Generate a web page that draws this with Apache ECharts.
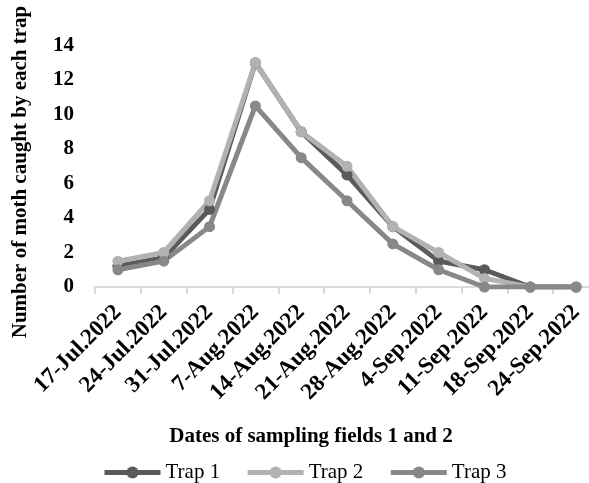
<!DOCTYPE html>
<html><head><meta charset="utf-8">
<script src="https://cdn.jsdelivr.net/npm/echarts@6/dist/echarts.min.js"></script>
<style>html,body{margin:0;padding:0;background:#fff}#c{width:589px;height:483px}</style>
</head><body><div id="c"></div>
<script>
var categories = ['17-Jul.2022','24-Jul.2022','31-Jul.2022','7-Aug.2022','14-Aug.2022','21-Aug.2022','28-Aug.2022','4-Sep.2022','11-Sep.2022','18-Sep.2022','24-Sep.2022'];
var trap1 = [1.2, 1.7, 4.5, 13, 9, 6.5, 3.5, 1.5, 1, 0, 0];
var trap2 = [1.5, 2, 5, 13, 9, 7, 3.5, 2, 0.5, 0, 0];
var trap3 = [1, 1.5, 3.5, 10.5, 7.5, 5, 2.5, 1, 0, 0, 0];
var yTicks = [0, 2, 4, 6, 8, 10, 12, 14];
var yTitle = 'Number of moth caught by each trap';
var xTitle = 'Dates of sampling fields 1 and 2';

var font = 'Liberation Serif';
function mk(name, data, color) {
  return {name: name, type: 'line', data: data, symbol: 'circle', symbolSize: 11,
    lineStyle: {width: 5, color: color}, itemStyle: {color: color}};
}
var chart = echarts.init(document.getElementById('c'));
chart.setOption({
  animation: false,
  grid: {left: 95, right: -10, top: 45.5, bottom: 196, outerBoundsMode: 'none', containLabel: false},
  xAxis: {type: 'category', data: categories, boundaryGap: true,
    axisLine: {lineStyle: {color: '#d9d9d9', width: 2}},
    axisTick: {show: true, length: 7, lineStyle: {color: '#d9d9d9', width: 2}},
    axisLabel: {rotate: 45, interval: 0, margin: 22, color: '#000', fontFamily: font, fontWeight: 'bold', fontSize: 23}
  },
  yAxis: {type: 'value', min: yTicks[0], max: yTicks[yTicks.length-1], interval: 2,
    axisLine: {show: false}, axisTick: {show: false}, splitLine: {show: false},
    axisLabel: {margin: 21, color: '#000', fontFamily: font, fontWeight: 'bold', fontSize: 21}
  },
  legend: {top: 462, left: 102, padding: 0, itemWidth: 56, itemHeight: 15, itemGap: 25,
    lineStyle: {width: 5}, itemStyle: {borderWidth: 0},
    textStyle: {fontFamily: font, fontSize: 21, color: '#000'}},
  graphic: [
    {type: 'text', x: 311, y: 437, style: {text: xTitle, textAlign: 'center', textVerticalAlign: 'middle',
      fontFamily: font, fontWeight: 'bold', fontSize: 21, fill: '#000'}},
    {type: 'text', x: 21, y: 172, rotation: Math.PI / 2, style: {text: yTitle, textAlign: 'center', textVerticalAlign: 'middle',
      fontFamily: font, fontWeight: 'bold', fontSize: 21, fill: '#000'}}
  ],
  series: [mk('Trap 1', trap1, '#5a5a5a'), mk('Trap 2', trap2, '#b2b2b2'), mk('Trap 3', trap3, '#888888')]
});
</script></body></html>
